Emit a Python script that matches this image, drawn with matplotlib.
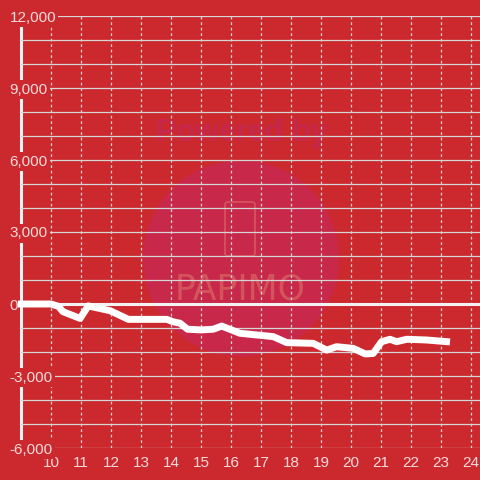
import numpy as np
import matplotlib
matplotlib.use("Agg")
import matplotlib.pyplot as plt
from matplotlib.patches import Circle, FancyBboxPatch

#--------config begin--------
bg_color = "#cc292f"
grid_color = "#d6d6d6"
label_color = "#f4dcdc"
line_color = "#ffffff"
#--------config end--------

# data (hour of day, value)
hours = [8.9, 10.0, 10.25, 10.4, 10.97, 11.24, 11.97, 12.58, 13.86, 14.07,
         14.3, 14.55, 15.0, 15.41, 15.69, 16.3, 17.41, 17.86, 18.74, 19.19,
         19.52, 20.08, 20.47, 20.74, 21.02, 21.3, 21.52, 21.86, 22.52, 23.3]
values = [0, 0, -100, -320, -600, -80, -280, -640, -640, -740,
          -800, -1050, -1080, -1050, -920, -1220, -1360, -1610, -1640, -1920,
          -1780, -1850, -2080, -2060, -1570, -1470, -1570, -1470, -1500, -1580]

x_ticks = list(range(10, 25))
y_major = list(range(-6000, 12001, 3000))
y_minor = list(range(-6000, 12001, 1000))

plt.rcParams["font.family"] = ["Liberation Sans", "DejaVu Sans"]

fig = plt.figure(figsize=(4.8, 4.8), dpi=100)
fig.patch.set_facecolor(bg_color)
ax = fig.add_axes([21 / 480, 32 / 480, 459 / 480, 432 / 480])
ax.set_facecolor(bg_color)

# watermark (under the grid)
ax.add_patch(Circle((241 / 480, 1 - 258.5 / 480), 98 / 480, transform=fig.transFigure,
                    facecolor="#c8284a", edgecolor="none", zorder=0.2, clip_on=False))
ax.add_patch(FancyBboxPatch((225 / 480, 1 - 256 / 480), 30 / 480, 54 / 480,
                            boxstyle="round,pad=0,rounding_size=0.006",
                            transform=fig.transFigure, facecolor="none",
                            edgecolor="#d4545c", lw=1.3, zorder=0.3, clip_on=False))
ax.text(242 / 480, 1 - 133 / 480, "Powered by", color="#c5284a", fontsize=22,
        fontweight="bold", ha="center", va="center", zorder=0.3,
        transform=fig.transFigure)
ax.text(240 / 480, 1 - 290 / 480, "PAPIMO", color="#d4545c", fontsize=25,
        family="DejaVu Sans", ha="center", va="center", zorder=0.3,
        transform=fig.transFigure)

ax.set_xlim(9.0, 24.3)
ax.set_ylim(-6000, 12000)

ax.set_yticks(y_major)
ax.set_yticks(y_minor, minor=True)
ax.set_yticklabels(["{:,}".format(v) for v in y_major])
ax.set_xticks(x_ticks)
ax.set_xticklabels([str(v) for v in x_ticks])

ax.set_axisbelow(True)
ax.grid(axis="y", which="both", color=grid_color, lw=0.9)
ax.grid(axis="x", which="major", color=grid_color, lw=0.9, linestyle=(0, (2.2, 2.2)))

ax.tick_params(axis="y", which="both", length=0, pad=8.2, labelsize=11, labelcolor=label_color)
ax.tick_params(axis="x", length=0, pad=6, labelsize=11, labelcolor=label_color)
for lab in ax.get_yticklabels():
    lab.set_horizontalalignment("left")
    lab.set_bbox(dict(facecolor=bg_color, edgecolor="none", pad=1.5))

for side in ("top", "right", "bottom"):
    ax.spines[side].set_visible(False)
ax.spines["left"].set_color("#f2f2f2")
ax.spines["left"].set_linewidth(2.2)
ax.spines["left"].set_zorder(0.45)

ax.axhline(0, color="#f2f2f2", lw=2.2, zorder=1.5)
ax.plot(hours, values, color=line_color, lw=5, solid_capstyle="butt",
        solid_joinstyle="round", clip_on=False, zorder=2)

plt.savefig("out.png", dpi=100, facecolor=bg_color)
